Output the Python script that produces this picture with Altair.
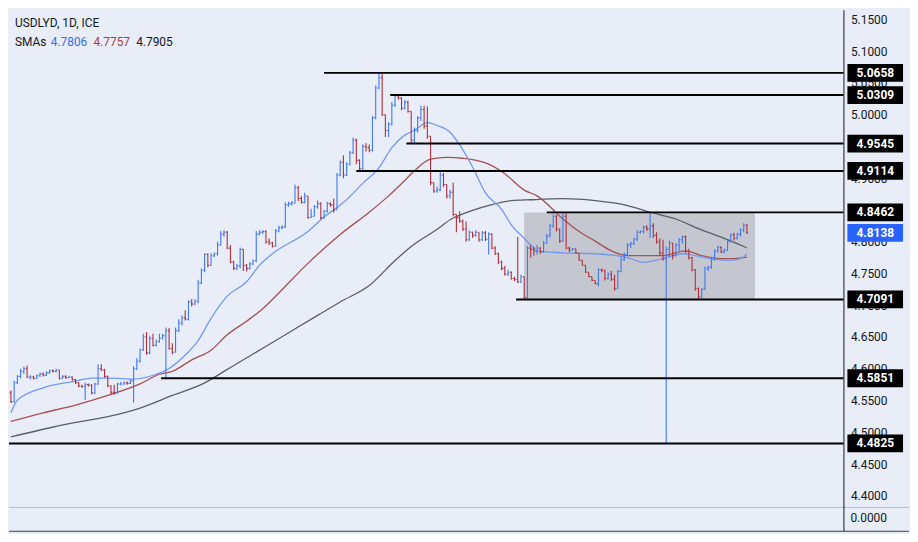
import altair as alt
import numpy as np
import pandas as pd

TITLE = "USDLYD, 1D, ICE"
SMA_LABEL = "SMAs"
SMA_LAST = ["4.7806", "4.7757", "4.7905"]

FIRST_OPEN = 4.562
CLOSE = [
    4.548, 4.578, 4.588, 4.596, 4.600, 4.587, 4.587, 4.585, 4.589, 4.592,
    4.590, 4.594, 4.597, 4.596, 4.598, 4.585, 4.588, 4.586, 4.587, 4.583,
    4.578, 4.573, 4.572, 4.575, 4.574, 4.562, 4.576, 4.600, 4.598, 4.588,
    4.573, 4.563, 4.562, 4.576, 4.576, 4.578, 4.577, 4.581, 4.600, 4.612,
    4.630, 4.650, 4.625, 4.648, 4.637, 4.643, 4.648, 4.652, 4.660, 4.632,
    4.626, 4.660, 4.672, 4.680, 4.678, 4.705, 4.702, 4.706, 4.735, 4.755,
    4.780, 4.763, 4.778, 4.781, 4.795, 4.812, 4.815, 4.790, 4.768, 4.758,
    4.762, 4.788, 4.763, 4.758, 4.765, 4.770, 4.812, 4.815, 4.816, 4.800,
    4.798, 4.793, 4.817, 4.822, 4.823, 4.858, 4.860, 4.861, 4.885, 4.868,
    4.862, 4.872, 4.838, 4.840, 4.855, 4.860, 4.838, 4.848, 4.860, 4.858,
    4.850, 4.905, 4.925, 4.905, 4.922, 4.940, 4.960, 4.928, 4.915, 4.950,
    4.948, 4.944, 4.995, 5.042, 5.058, 5.000, 4.975, 4.985, 5.015, 5.030,
    5.026, 5.010, 5.020, 5.005, 4.960, 4.975, 4.995, 5.008, 4.982, 4.966,
    4.893, 4.880, 4.882, 4.905, 4.890, 4.872, 4.878, 4.843, 4.838, 4.832,
    4.820, 4.803, 4.815, 4.810, 4.815, 4.803, 4.814, 4.804, 4.812, 4.790,
    4.781, 4.768, 4.758, 4.749, 4.752, 4.742, 4.741, 4.737, 4.745, 4.712,
    4.790, 4.788, 4.785, 4.790, 4.784, 4.798, 4.809, 4.825, 4.840, 4.820,
    4.801, 4.840, 4.790, 4.787, 4.789, 4.782, 4.771, 4.763, 4.752, 4.745,
    4.739, 4.734, 4.756, 4.755, 4.742, 4.748, 4.741, 4.726, 4.753, 4.772,
    4.780, 4.795, 4.797, 4.804, 4.815, 4.816, 4.823, 4.820, 4.825, 4.810,
    4.800, 4.782, 4.773, 4.788, 4.798, 4.778, 4.795, 4.803, 4.808, 4.785,
    4.775, 4.756, 4.726, 4.713, 4.725, 4.758, 4.760, 4.772, 4.785, 4.791,
    4.784, 4.787, 4.800, 4.811, 4.805, 4.812, 4.818, 4.826, 4.8138,
]
HIGH = [
    4.566, 4.581, 4.590, 4.600, 4.603, 4.605, 4.590, 4.589, 4.591, 4.594,
    4.594, 4.596, 4.599, 4.599, 4.600, 4.598, 4.590, 4.590, 4.589, 4.588,
    4.584, 4.579, 4.575, 4.578, 4.577, 4.576, 4.578, 4.607, 4.607, 4.600,
    4.589, 4.574, 4.575, 4.578, 4.579, 4.580, 4.580, 4.583, 4.604, 4.617,
    4.632, 4.655, 4.658, 4.652, 4.655, 4.646, 4.655, 4.655, 4.665, 4.664,
    4.640, 4.665, 4.678, 4.684, 4.692, 4.708, 4.710, 4.710, 4.740, 4.758,
    4.782, 4.782, 4.782, 4.783, 4.800, 4.817, 4.818, 4.817, 4.795, 4.770,
    4.765, 4.791, 4.778, 4.765, 4.768, 4.772, 4.817, 4.818, 4.818, 4.818,
    4.805, 4.800, 4.820, 4.825, 4.826, 4.862, 4.863, 4.864, 4.890, 4.888,
    4.872, 4.877, 4.872, 4.852, 4.858, 4.865, 4.862, 4.850, 4.863, 4.862,
    4.868, 4.908, 4.928, 4.936, 4.925, 4.943, 4.964, 4.962, 4.930, 4.953,
    4.955, 4.953, 4.998, 5.046, 5.066, 5.064, 5.000, 4.988, 5.020, 5.031,
    5.031, 5.027, 5.023, 5.022, 5.005, 4.980, 4.998, 5.014, 5.014, 5.013,
    4.965, 4.893, 4.887, 4.910, 4.908, 4.890, 4.882, 4.893, 4.843, 4.848,
    4.835, 4.832, 4.818, 4.816, 4.818, 4.815, 4.817, 4.817, 4.815, 4.813,
    4.793, 4.783, 4.770, 4.762, 4.756, 4.753, 4.745, 4.808, 4.748, 4.745,
    4.793, 4.795, 4.792, 4.795, 4.791, 4.801, 4.812, 4.828, 4.843, 4.842,
    4.820, 4.8462, 4.846, 4.792, 4.790, 4.783, 4.772, 4.764, 4.753, 4.746,
    4.740, 4.735, 4.758, 4.758, 4.756, 4.752, 4.754, 4.748, 4.756, 4.776,
    4.783, 4.798, 4.800, 4.806, 4.818, 4.818, 4.825, 4.826, 4.8462, 4.829,
    4.815, 4.805, 4.803, 4.792, 4.802, 4.797, 4.798, 4.806, 4.810, 4.810,
    4.789, 4.776, 4.757, 4.728, 4.727, 4.761, 4.762, 4.774, 4.788, 4.794,
    4.793, 4.789, 4.802, 4.813, 4.814, 4.814, 4.821, 4.829, 4.828,
]
LOW = [
    4.546, 4.547, 4.576, 4.585, 4.592, 4.585, 4.583, 4.583, 4.584, 4.587,
    4.588, 4.589, 4.592, 4.594, 4.594, 4.583, 4.584, 4.584, 4.585, 4.581,
    4.576, 4.571, 4.570, 4.551, 4.572, 4.560, 4.560, 4.575, 4.596, 4.586,
    4.571, 4.560, 4.559, 4.561, 4.574, 4.575, 4.575, 4.576, 4.547, 4.598,
    4.610, 4.628, 4.622, 4.623, 4.635, 4.635, 4.641, 4.646, 4.585, 4.630,
    4.623, 4.628, 4.658, 4.668, 4.676, 4.676, 4.698, 4.700, 4.703, 4.733,
    4.752, 4.760, 4.762, 4.776, 4.778, 4.794, 4.808, 4.788, 4.766, 4.755,
    4.755, 4.758, 4.754, 4.753, 4.756, 4.763, 4.768, 4.810, 4.812, 4.797,
    4.795, 4.791, 4.792, 4.815, 4.820, 4.822, 4.855, 4.857, 4.860, 4.864,
    4.860, 4.860, 4.836, 4.838, 4.840, 4.852, 4.835, 4.836, 4.846, 4.855,
    4.846, 4.850, 4.903, 4.900, 4.903, 4.920, 4.938, 4.922, 4.911, 4.913,
    4.942, 4.941, 4.942, 4.993, 5.040, 4.998, 4.965, 4.965, 4.983, 5.012,
    5.024, 5.007, 5.008, 5.003, 4.9545, 4.955, 4.972, 4.990, 4.978, 4.962,
    4.889, 4.877, 4.877, 4.880, 4.886, 4.868, 4.868, 4.840, 4.815, 4.830,
    4.817, 4.800, 4.801, 4.806, 4.808, 4.800, 4.801, 4.801, 4.780, 4.788,
    4.779, 4.765, 4.755, 4.747, 4.746, 4.740, 4.738, 4.735, 4.735, 4.7091,
    4.713, 4.775, 4.778, 4.780, 4.781, 4.783, 4.797, 4.807, 4.822, 4.816,
    4.798, 4.800, 4.788, 4.784, 4.786, 4.781, 4.770, 4.762, 4.751, 4.744,
    4.738, 4.733, 4.730, 4.752, 4.739, 4.740, 4.738, 4.723, 4.728, 4.752,
    4.770, 4.778, 4.790, 4.795, 4.801, 4.813, 4.813, 4.817, 4.806, 4.806,
    4.797, 4.779, 4.770, 4.4825, 4.776, 4.772, 4.777, 4.785, 4.797, 4.782,
    4.772, 4.753, 4.723, 4.709, 4.712, 4.724, 4.754, 4.757, 4.770, 4.783,
    4.782, 4.782, 4.785, 4.799, 4.802, 4.804, 4.808, 4.815, 4.812,
]

SMA20_IDX = [0, 2, 10, 20, 25, 30, 38, 45, 49, 54, 58, 62, 67, 73, 77, 81, 92, 97,
             103, 109, 114, 118, 122, 125, 129, 132, 136, 139, 143, 147, 152, 155,
             159, 162, 163, 171, 181, 191, 196, 202, 208, 212, 217, 222, 226, 228]
SMA20 = [4.5306, 4.5504, 4.5701, 4.5807, 4.5853, 4.5853, 4.5838, 4.5914, 4.6005,
         4.6217, 4.6445, 4.6794, 4.7143, 4.7371, 4.7629, 4.7811, 4.8160, 4.8388,
         4.8616, 4.8919, 4.9162, 4.9481, 4.9678, 4.9754, 4.9876, 4.9830, 4.9724,
         4.9527, 4.9177, 4.8768, 4.8510, 4.8267, 4.8054, 4.7902, 4.7857, 4.7826,
         4.7811, 4.7750, 4.7675, 4.7735, 4.7811, 4.7781, 4.7735, 4.7705, 4.7735,
         4.7806]
SMA50_IDX = [0, 10, 20, 30, 40, 46, 50, 56, 62, 67, 73, 78, 82, 92, 102, 111, 117,
             122, 125, 130, 135, 140, 148, 153, 159, 163, 171, 176, 181, 186, 191,
             202, 209, 214, 220, 224, 228]
SMA50 = [4.5170, 4.5306, 4.5428, 4.5580, 4.5762, 4.5914, 4.5959, 4.6141, 4.6293,
         4.6536, 4.6749, 4.6946, 4.7143, 4.7659, 4.8115, 4.8464, 4.8722, 4.8965,
         4.9117, 4.9299, 4.9329, 4.9314, 4.9223, 4.9071, 4.8813, 4.8722, 4.8358,
         4.8160, 4.8009, 4.7857, 4.7781, 4.7781, 4.7857, 4.7781, 4.7735, 4.7735,
         4.7757]
SMA200_IDX = [0, 10, 20, 30, 40, 50, 60, 66, 75, 85, 95, 102, 111, 119, 125, 131,
              137, 143, 149, 155, 161, 171, 181, 191, 198, 206, 213, 221, 228]
SMA200 = [4.4927, 4.5048, 4.5155, 4.5246, 4.5382, 4.5580, 4.5777, 4.5959, 4.6232,
          4.6536, 4.6840, 4.7052, 4.7310, 4.7705, 4.7963, 4.8160, 4.8373, 4.8494,
          4.8586, 4.8646, 4.8661, 4.8677, 4.8646, 4.8570, 4.8464, 4.8358, 4.8206,
          4.8054, 4.7905]

LEVELS = [5.0658, 5.0309, 4.9545, 4.9114, 4.8462, 4.7091, 4.5851, 4.4825]
LEVEL_START = [97, 117.5, 122.5, 107, 166, 156.5, 46.5, -0.6]
BOX_START, BOX_END = 159, 230.5
BOX_TOP, BOX_BOTTOM = 4.8462, 4.7091
LAST_PRICE = 4.8138
AXIS_TICKS = [4.40, 4.45, 4.50, 4.55, 4.60, 4.65, 4.70, 4.75, 4.80, 4.85,
              4.90, 4.95, 5.00, 5.05, 5.10, 5.15]
BOTTOM_LABEL = "0.0000"

X_MIN, X_MAX = -0.6, 257.9
Y_MIN, Y_MAX = 4.3833, 5.1652

W, H = 840, 500
BG = "#E8EDF8"
UP = "#3F78F2"
DOWN = "#B02F3A"
TXT = "#131722"
FONT = "Roboto"

xs = alt.Scale(domain=[X_MIN, X_MAX], nice=False, zero=False)
ys = alt.Scale(domain=[Y_MIN, Y_MAX], nice=False, zero=False)
yax = alt.Axis(orient="right", values=AXIS_TICKS, format=".4f", title=None,
               ticks=False, grid=False, domain=True, domainColor=TXT,
               domainWidth=1, labelColor=TXT, labelFont=FONT, labelFontSize=12,
               labelPadding=7, labelAlign="left", labelBaseline="middle")


def X(f):
    return alt.X(f, scale=xs, axis=None)


def Y(f):
    return alt.Y(f, scale=ys, axis=yax)


n = len(CLOSE)
opens = [FIRST_OPEN] + CLOSE[:-1]
bars = pd.DataFrame({"i": np.arange(n), "open": opens, "close": CLOSE,
                     "high": HIGH, "low": LOW})
bars["hi"] = bars[["high", "open", "close"]].max(axis=1)
bars["lo"] = bars[["low", "open", "close"]].min(axis=1)
bars["dir"] = np.where(bars["close"] >= bars["open"], "up", "down")
bars["il"] = bars["i"] - 0.4
bars["ir"] = bars["i"] + 0.4
col = alt.Color("dir:N", scale=alt.Scale(domain=["up", "down"], range=[UP, DOWN]),
                legend=None)

box_df = pd.DataFrame({"x0": [BOX_START], "x1": [BOX_END],
                       "y0": [BOX_BOTTOM], "y1": [BOX_TOP]})
box = alt.Chart(box_df).mark_rect(color="#C4C7CF").encode(
    x=X("x0:Q"), x2="x1:Q", y=Y("y0:Q"), y2="y1:Q")

vert = alt.Chart(bars).mark_rule(strokeWidth=1.1).encode(
    x=X("i:Q"), y=Y("lo:Q"), y2="hi:Q", color=col)
otick = alt.Chart(bars).mark_rule(strokeWidth=1.1).encode(
    x=X("il:Q"), x2="i:Q", y=Y("open:Q"), color=col)
ctick = alt.Chart(bars).mark_rule(strokeWidth=1.1).encode(
    x=X("i:Q"), x2="ir:Q", y=Y("close:Q"), color=col)


def sma(idx, vals, color):
    d = pd.DataFrame({"i": idx, "v": vals})
    return alt.Chart(d).mark_line(color=color, strokeWidth=1.3,
                                  interpolate="monotone").encode(
        x=X("i:Q"), y=Y("v:Q"))


l200 = sma(SMA200_IDX, SMA200, "#5A5E68")
l50 = sma(SMA50_IDX, SMA50, "#A5514F")
l20 = sma(SMA20_IDX, SMA20, "#7398EE")

lev_df = pd.DataFrame({"p": LEVELS, "s": LEVEL_START, "e": [X_MAX] * len(LEVELS),
                       "t": [f"{v:.4f}" for v in LEVELS]})
levels = alt.Chart(lev_df).mark_rule(color="#000000", strokeWidth=2).encode(
    x=X("s:Q"), x2="e:Q", y=Y("p:Q"))

BOXPATH = "M-1,-0.32L1,-0.32L1,0.32L-1,0.32Z"
lab_x = alt.value(W + 32)
lab_boxes = alt.Chart(lev_df).mark_point(shape=BOXPATH, filled=True, size=3136,
                                         color="#000000", opacity=1,
                                         strokeWidth=0).encode(x=lab_x, y=Y("p:Q"))
lab_text = alt.Chart(lev_df).mark_text(color="white", font=FONT, fontSize=12,
                                       fontWeight="bold", align="center",
                                       baseline="middle").encode(
    x=lab_x, y=Y("p:Q"), text="t:N")

last_df = pd.DataFrame({"p": [LAST_PRICE], "t": [f"{LAST_PRICE:.4f}"]})
last_box = alt.Chart(last_df).mark_point(shape=BOXPATH, filled=True, size=3136,
                                         color="#2962FF", opacity=1,
                                         strokeWidth=0).encode(x=lab_x, y=Y("p:Q"))
last_text = alt.Chart(last_df).mark_text(color="white", font=FONT, fontSize=12,
                                         fontWeight="bold", align="center",
                                         baseline="middle").encode(
    x=lab_x, y=Y("p:Q"), text="t:N")


def label(text, x, y, color=TXT):
    return alt.Chart(pd.DataFrame({"t": [text]})).mark_text(
        align="left", baseline="middle", font=FONT, fontSize=12, color=color
    ).encode(x=alt.value(x), y=alt.value(y), text="t:N")


t_title = label(TITLE, 6, 13)
t_sma = label(SMA_LABEL, 6, 33)
t_v1 = label(SMA_LAST[0], 42, 33, "#3D6FE8")
t_v2 = label(SMA_LAST[1], 85, 33, "#A5403F")
t_v3 = label(SMA_LAST[2], 128, 33, TXT)

one = pd.DataFrame({"a": [0]})
sep = alt.Chart(one).mark_rule(color="#B8BCC6", strokeWidth=1).encode(
    x=alt.value(0), x2=alt.value(W + 66), y=alt.value(H + 1))
bottom_line = alt.Chart(one).mark_rule(color="#3A3E48", strokeWidth=1).encode(
    x=alt.value(0), x2=alt.value(W + 66), y=alt.value(H + 25))
axis_ext = alt.Chart(one).mark_rule(color=TXT, strokeWidth=1).encode(
    x=alt.value(W + 0.5), y=alt.value(H), y2=alt.value(H + 25))
t_zero = label(BOTTOM_LABEL, W + 7, H + 12)

chart = alt.layer(
    box, l200, l50, l20, vert, otick, ctick, levels,
    lab_boxes, lab_text, last_box, last_text,
    t_title, t_sma, t_v1, t_v2, t_v3, sep, bottom_line, axis_ext, t_zero,
).properties(
    width=W, height=H, padding=0, background=BG
).configure_view(stroke=None, fill=BG)

chart.save("out.html", embed_options={"renderer": "svg", "actions": False})
